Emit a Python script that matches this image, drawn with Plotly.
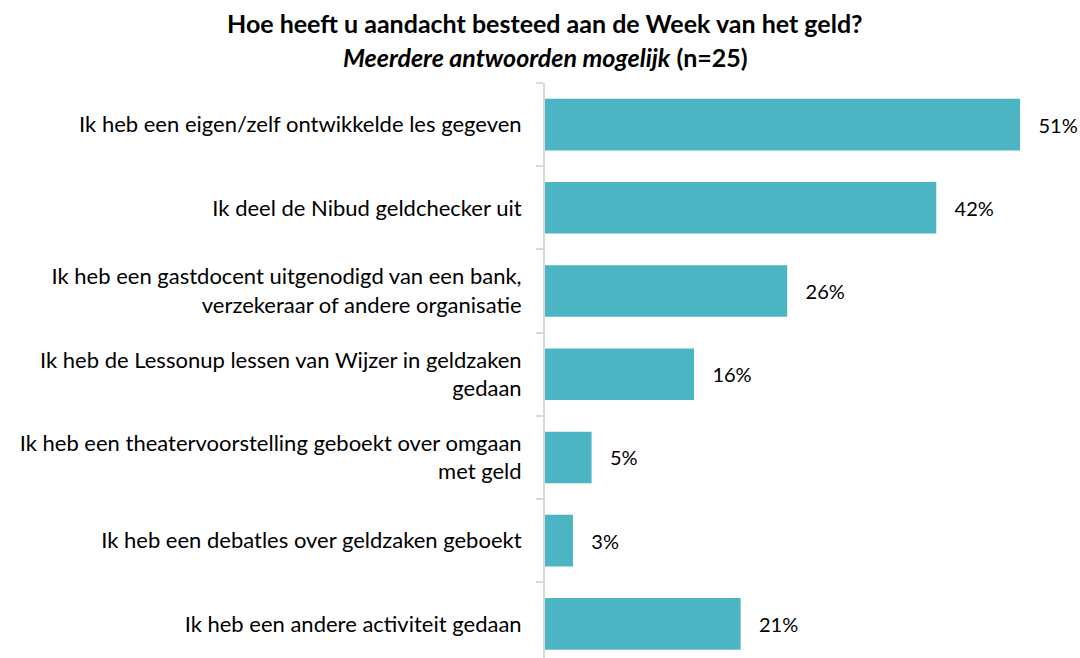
import plotly.graph_objects as go

categories = [
    "Ik heb een eigen/zelf ontwikkelde les gegeven",
    "Ik deel de Nibud geldchecker uit",
    "Ik heb een gastdocent uitgenodigd van een bank,<br>verzekeraar of andere organisatie",
    "Ik heb de Lessonup lessen van Wijzer in geldzaken<br>gedaan",
    "Ik heb een theatervoorstelling geboekt over omgaan<br>met geld",
    "Ik heb een debatles over geldzaken geboekt",
    "Ik heb een andere activiteit gedaan",
]
values = [51, 42, 26, 16, 5, 3, 21]
title_line1 = "Hoe heeft u aandacht besteed aan de Week van het geld?"
title_line2_italic = "Meerdere antwoorden mogelijk"
title_line2_rest = " (n=25)"

FONT = "Lato"
pos = list(range(len(categories)))

fig = go.Figure(go.Bar(
    x=values, y=pos, orientation="h",
    marker=dict(color="#4bb5c4", line=dict(width=0)),
    width=0.62,
    text=[f"\u00a0\u00a0\u00a0{v}%" for v in values],
    textposition="outside",
    textfont=dict(family=FONT, size=20, color="#000000"),
    cliponaxis=False,
    hoverinfo="skip",
))

fig.update_layout(
    width=1080, height=658,
    paper_bgcolor="white", plot_bgcolor="white",
    margin=dict(l=545, r=4, t=83, b=0),
    showlegend=False,
    xaxis=dict(range=[0, 57], visible=False),
    yaxis=dict(
        range=[6.41, -0.5],
        tickvals=pos, ticktext=categories,
        ticks="", showgrid=False, zeroline=False,
        showline=True, linecolor="#d9d9d9", linewidth=2,
        tickfont=dict(family=FONT, size=22, color="#000000"),
        ticklabelstandoff=17,
        automargin=False,
        minor=dict(tickvals=[-0.5, 0.5, 1.5, 2.5, 3.5, 4.5, 5.5], ticks="outside",
                   ticklen=7, tickcolor="#d9d9d9", tickwidth=2, showgrid=False),
    ),
    annotations=[
        dict(text=f"<b>{title_line1}</b>", xref="paper", yref="paper",
             x=0.0, y=1 + (83 - 23) / 575, xanchor="center", yanchor="middle",
             showarrow=False, font=dict(family=FONT, size=25, color="#000000")),
        dict(text=f"<b><i>{title_line2_italic}</i>{title_line2_rest}</b>", xref="paper", yref="paper",
             x=0.0, y=1 + (83 - 57) / 575, xanchor="center", yanchor="middle",
             showarrow=False, font=dict(family=FONT, size=25, color="#000000")),
    ],
)

fig.write_html("out.html", config={"displayModeBar": False},
               post_script="document.body.style.margin='0';")
